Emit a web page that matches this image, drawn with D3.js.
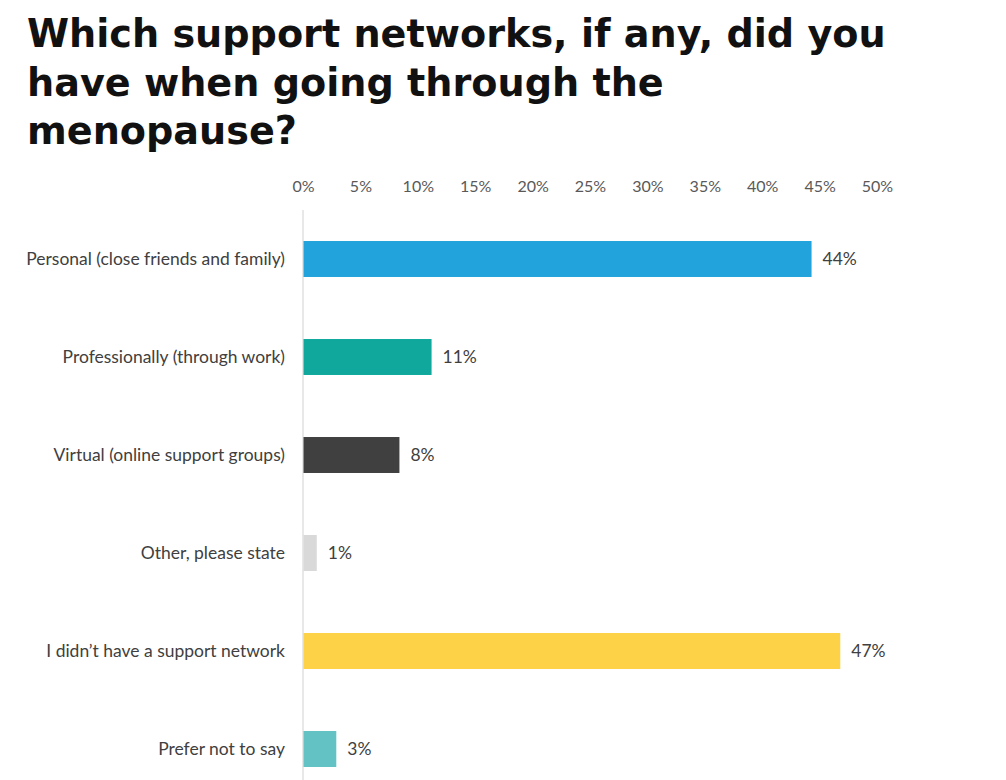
<!DOCTYPE html>
<html><head><meta charset="utf-8">
<script src="https://cdn.jsdelivr.net/npm/d3@7"></script>
<style>body{margin:0;background:#fff;} svg{display:block;}</style>
</head><body>
<svg id="chart" width="1006" height="780"></svg>
<script>
const titleLines = ["Which support networks, if any, did you", "have when going through the", "menopause?"];
const categories = ["Personal (close friends and family)", "Professionally (through work)", "Virtual (online support groups)", "Other, please state", "I didn\u2019t have a support network", "Prefer not to say"];
const values = [44.3, 11.2, 8.4, 1.2, 46.8, 2.9];
const valueLabels = ["44%", "11%", "8%", "1%", "47%", "3%"];
const colors = ["#23A3DB", "#10A89D", "#404040", "#D9D9D9", "#FDD247", "#62C2C4"];
const tickValues = [0, 5, 10, 15, 20, 25, 30, 35, 40, 45, 50];

const svg = d3.select("#chart");
const x = d3.scaleLinear().domain([0, 50]).range([303, 877]);
const y = d3.scaleBand().domain(categories).range([210, 798]).paddingInner(0.633).paddingOuter(0.3165);
const FONT = "Lato, Open Sans, sans-serif";

// title
const t = svg.append("text").attr("x", 27).attr("font-family", "DejaVu Sans, sans-serif")
  .attr("font-weight", "bold").attr("font-size", 41).attr("fill", "#111");
titleLines.forEach((l, i) => {
  t.append("tspan").attr("x", 27).attr("y", 47 + i * 48.5).text(l);
});
const tl = t.select("tspan").node().getComputedTextLength();
if (tl > 0) t.attr("font-size", 41 * 859 / tl);

// axis
const ax = svg.append("g").attr("transform", "translate(0,192)")
  .call(d3.axisTop(x).tickValues(tickValues).tickFormat(d => d + "%").tickSize(0).tickPadding(0));
ax.select(".domain").remove();
ax.selectAll("text").attr("font-family", FONT).attr("font-size", 16).attr("fill", "#595959");

// vertical baseline
svg.append("line").attr("x1", x(0)).attr("x2", x(0)).attr("y1", 210).attr("y2", 780)
  .attr("stroke", "#D9D9D9").attr("stroke-width", 1.2);

// bars
svg.append("g").selectAll("rect").data(categories).join("rect")
  .attr("x", x(0) + 0.5).attr("y", d => y(d))
  .attr("width", (d, i) => x(values[i]) - x(0) - 0.5).attr("height", y.bandwidth())
  .attr("fill", (d, i) => colors[i]);

// category labels
const cl = svg.append("g").selectAll("text").data(categories).join("text")
  .attr("x", 285).attr("y", d => y(d) + y.bandwidth() / 2).attr("dy", "0.35em")
  .attr("text-anchor", "end").attr("font-family", FONT).attr("font-size", 16.5)
  .attr("fill", "#404040").text(d => d);
const cw = cl.node().getComputedTextLength();
const catSize = cw > 0 ? 16.5 * 259 / cw : 16.5;
cl.attr("font-size", catSize);

// value labels
svg.append("g").selectAll("text").data(categories).join("text")
  .attr("x", (d, i) => x(values[i]) + 11).attr("y", d => y(d) + y.bandwidth() / 2).attr("dy", "0.35em")
  .attr("font-family", FONT).attr("font-size", catSize)
  .attr("fill", "#404040").text((d, i) => valueLabels[i]);
</script>
</body></html>
